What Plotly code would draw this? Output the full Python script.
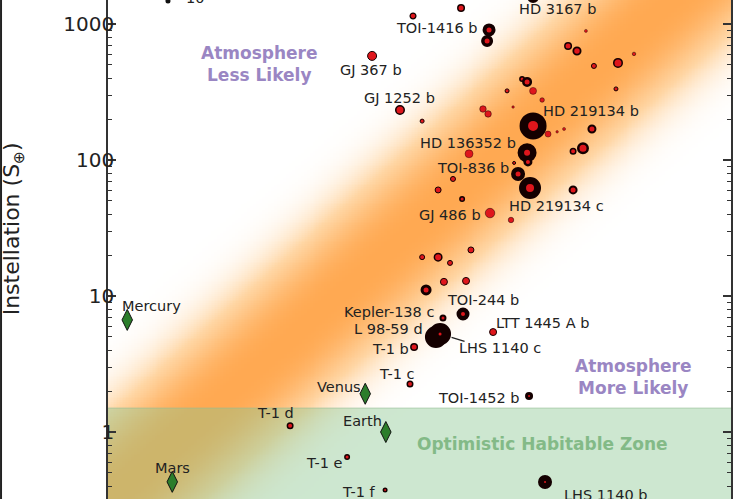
import numpy as np
import plotly.graph_objects as go

# rocky exoplanets: escape velocity (km/s) vs instellation (Earth = 1)
names = ["", "", "TOI-1416 b", "", "HD 3167 b", "", "", "", "", "", "", "", "", "", "", "", "",
         "", "", "", "GJ 1252 b", "GJ 367 b", "", "HD 219134 b", "", "", "", "", "", "",
         "HD 136352 b", "", "", "", "TOI-836 b", "HD 219134 c", "", "", "", "", "GJ 486 b", "",
         "", "", "", "", "", "", "", "TOI-244 b", "Kepler-138 c", "L 98-59 d", "LHS 1140 c",
         "LTT 1445 A b", "T-1 b", "T-1 c", "TOI-1452 b", "T-1 d", "T-1 e", "T-1 f", "LHS 1140 b"]
v_esc = [14.83, 12.39, 16.47, 16.35, 19.42, 23.67, 22.14, 22.89, 28.34, 24.39, 26.69, 26.49,
         18.64, 18.99, 19.42, 17.62, 20.09, 18.02, 16.10, 16.41, 11.80, 10.63, 12.82, 19.42,
         20.54, 21.25, 21.81, 24.21, 23.41, 22.56, 18.99, 19.05, 15.28, 18.09, 18.36, 19.20,
         14.39, 13.61, 14.89, 22.56, 16.53, 17.88, 12.82, 13.61, 14.23, 15.39, 13.91, 15.11,
         13.01, 14.94, 13.86, 13.50, 13.71, 16.72, 12.44, 12.25, 19.13, 7.82, 9.68, 11.16, 20.31]
instellation = [1312, 1145, 903, 750, 1580, 889, 689, 633, 602, 491, 517, 333,
                394, 375, 322, 322, 276, 245, 237, 218, 233, 582, 193, 178,
                155, 161, 169, 169, 122, 116, 113, 96.7, 111, 95.1, 78.9, 62.2,
                72.5, 60.2, 51.7, 60.2, 40.7, 36.2, 19.3, 19.3, 17.5, 21.8, 12.7, 12.9,
                11.07, 7.37, 6.89, 4.99, 5.26, 5.43, 4.22, 2.25, 1.84, 1.11, 0.655, 0.375, 0.429]
# planet metric (red core) and observing weight (black ring)
core = [5, 4.5, 5, 5, 5, 3, 5, 5.5, 3, 4, 7, 3, 3, 5, 7, 3, 4, 2.5, 6, 6, 7, 8, 3, 10,
        6, 2.5, 3, 5, 7, 4, 6, 4, 8, 2, 5, 8, 4, 5, 3, 5, 9, 5, 4, 6, 4, 5, 6, 6,
        5, 4, 3, 3, 3, 6, 5, 4, 2, 4, 3, 2, 2]
ring = [1.5, 1.3, 4, 3.5, 3.5, 0, 1.5, 1.8, 0.5, 1, 1.5, 1, 1.5, 2.5, 0, 1, 0.5, 0, 0.5, 0.5,
        1.5, 1, 1, 8.5, 0, 0, 0, 2, 2.5, 1.5, 6.5, 2.5, 0, 1, 4.5, 7, 1, 1, 1.5, 2, 0.5, 0.5,
        1, 1.5, 1, 1, 1, 1, 3, 4.5, 2, 9.5, 9.5, 1, 1.5, 1.5, 3, 1.5, 1.5, 1.5, 6]

solar_names = ["Mercury", "Venus", "Earth", "Mars"]
solar_vesc = [4.25, 10.36, 11.19, 5.03]
solar_inst = [6.67, 1.91, 1.0, 0.43]

key_vesc = [4.95]
key_inst = [1476]
key_label = "10"

# cosmic shoreline  I = shore_I * (v / shore_v) ** shore_slope
shore_v = 11.4
shore_I = 22.0
shore_slope = 4.0
shore_width = 0.64
hz_inner = 1.5

y_ticks = [1, 10, 100, 1000]

x_range = [0.5971, 1.6101]
y_range = [-0.4926, 3.176]

FONT = "DejaVu Sans, Arial, sans-serif"

fig = go.Figure()

gx = np.linspace(0.55, 1.66, 230)
gy = np.linspace(-0.6, 3.3, 280)
X, Y = np.meshgrid(gx, gy)
dist = Y - (np.log10(shore_I) + shore_slope * (X - np.log10(shore_v)))
z = np.exp(-np.abs(dist / shore_width) ** 2.6)
fig.add_trace(go.Heatmap(x=10 ** gx, y=10 ** gy, z=z,
                         colorscale=[[0, "white"], [0.4, "#ffd6a4"], [1, "#ffa952"]],
                         zmin=0, zmax=1, showscale=False, hoverinfo="skip"))

x_lo, x_hi = 10 ** (x_range[0] - 0.05), 10 ** (x_range[1] + 0.05)
fig.add_trace(go.Scatter(x=[x_lo, x_hi, x_hi, x_lo], y=[hz_inner, hz_inner, 0.05, 0.05], mode="lines",
                         fill="toself", fillcolor="rgba(135,197,142,0.42)",
                         line=dict(color="rgba(150,190,150,0.6)", width=1), hoverinfo="skip"))

core_a = np.array(core, dtype=float)
ring_a = np.array(ring, dtype=float)
fig.add_trace(go.Scatter(
    x=v_esc, y=instellation, mode="markers", hoverinfo="text", text=names,
    marker=dict(size=core_a + ring_a, color="#df161c", opacity=1,
                line=dict(color="#140000", width=np.maximum(ring_a, 0.4))),
))
fig.add_trace(go.Scatter(x=solar_vesc, y=solar_inst, mode="markers", text=solar_names, hoverinfo="text",
                         marker=dict(symbol="diamond-tall", size=15, color="#2b7d2b", opacity=1,
                                     line=dict(color="#111", width=1))))
fig.add_trace(go.Scatter(x=key_vesc, y=key_inst, mode="markers", hoverinfo="skip",
                         marker=dict(size=5, color="#111")))

# label offsets in pixels (dx right, dy down) from each marker
label_off = {
    "HD 3167 b": (24, 12), "TOI-1416 b": (-52, -2), "GJ 367 b": (-1, 14), "GJ 1252 b": (0, -12),
    "HD 219134 b": (58, -15), "HD 136352 b": (-59, -10), "TOI-836 b": (-45, -6),
    "HD 219134 c": (26, 18), "GJ 486 b": (-40, 2), "TOI-244 b": (20, -14),
    "Kepler-138 c": (-54, -6), "L 98-59 d": (-47, -8), "LTT 1445 A b": (49, -9),
    "T-1 b": (-24, 2), "T-1 c": (-13, -10), "TOI-1452 b": (-50, 2), "T-1 d": (-15, -13),
    "T-1 e": (-23, 6), "T-1 f": (-26, 2), "LHS 1140 b": (61, 13),
    "Mercury": (24, -14), "Venus": (-26, -7), "Earth": (-23, -11), "Mars": (0, -14),
}
plot_h = 499
lab_font = dict(family=FONT, size=14.5, color="#222")
for n, v, s in list(zip(names, v_esc, instellation)) + list(zip(solar_names, solar_vesc, solar_inst)):
    if n not in label_off:
        continue
    dx, dy = label_off[n]
    ly = np.log10(s)
    if ly > y_range[1]:
        # marker sits above the visible range: pin the label to the paper instead
        frac = (ly - y_range[0]) / (y_range[1] - y_range[0])
        fig.add_annotation(x=np.log10(v), y=frac - dy / plot_h, yref="paper", text=n, showarrow=False,
                           xshift=dx, xanchor="center", yanchor="middle", font=lab_font)
    else:
        fig.add_annotation(x=np.log10(v), y=ly, text=n, showarrow=False, xshift=dx, yshift=-dy,
                           xanchor="center", yanchor="middle", font=lab_font)

i_c = names.index("LHS 1140 c")
fig.add_annotation(x=np.log10(v_esc[i_c]), y=np.log10(instellation[i_c]), text="LHS 1140 c",
                   showarrow=False, xshift=60, yshift=-14, font=lab_font)
fig.add_annotation(x=np.log10(v_esc[i_c]), y=np.log10(instellation[i_c]), text="", showarrow=True,
                   ax=26, ay=8, arrowhead=0, arrowwidth=1.3, arrowcolor="#222", standoff=12)
fig.add_annotation(x=np.log10(key_vesc[0]), y=np.log10(key_inst[0]), text=key_label, showarrow=False,
                   xshift=27, yshift=3, font=lab_font)

zone_font = dict(family="DejaVu Sans, Arial, sans-serif", size=17)
zone_kw = dict(xref="paper", yref="paper", showarrow=False, xanchor="center", yanchor="middle")
fig.add_annotation(x=0.2424, y=0.8717, text="<b>Atmosphere<br>Less Likely</b>",
                   font=dict(color="#9a86c3", **zone_font), **zone_kw)
fig.add_annotation(x=0.8443, y=0.2445, text="<b>Atmosphere<br>More Likely</b>",
                   font=dict(color="#9a86c3", **zone_font), **zone_kw)
fig.add_annotation(x=0.6982, y=0.1102, text="<b>Optimistic Habitable Zone</b>",
                   font=dict(color="#83ba87", **zone_font), **zone_kw)
fig.add_annotation(x=-0.152, y=0.541, text="Instellation (S<sub>⊕</sub>)", textangle=-90,
                   font=dict(family=FONT, size=22, color="#222"), **zone_kw)

fig.add_shape(type="line", xref="paper", yref="paper", x0=-0.1717, x1=-0.1717, y0=0, y1=1,
              line=dict(color="#222", width=2))

minor_vals = [m * 10 ** k for k in range(-1, 4) for m in range(2, 10)]
fig.update_yaxes(type="log", range=y_range, tickvals=y_ticks, ticktext=[str(t) for t in y_ticks],
                 ticks="inside", ticklen=8, tickwidth=1.5, tickcolor="#333", ticklabelstandoff=-12,
                 minor=dict(tickvals=minor_vals, ticks="inside", ticklen=4.5, tickwidth=1.2, tickcolor="#333"),
                 showline=True, linecolor="#333", linewidth=1.5, mirror="allticks",
                 showgrid=False, zeroline=False, tickfont=dict(family=FONT, size=20, color="#222"))
fig.update_xaxes(type="log", range=x_range, visible=False, showgrid=False)
fig.update_layout(width=740, height=499, margin=dict(l=108, r=9, t=0, b=0), showlegend=False,
                  plot_bgcolor="white", paper_bgcolor="white", font=dict(family=FONT))

fig.write_html("out.html", config={"displayModeBar": False},
               post_script="document.body.style.margin='0px';")
